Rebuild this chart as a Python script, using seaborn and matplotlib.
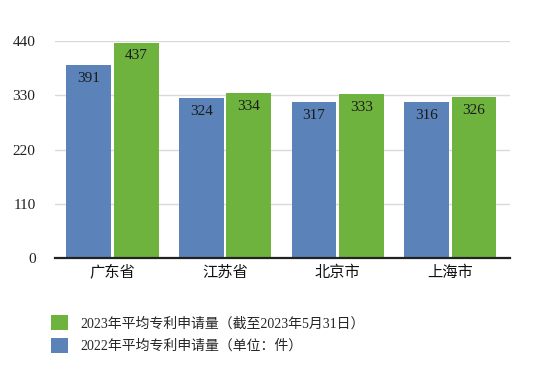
import matplotlib
matplotlib.use("Agg")
import matplotlib.pyplot as plt
import seaborn as sns
import pandas as pd
from matplotlib.patches import Patch

categories = ["广东省", "江苏省", "北京市", "上海市"]
values_2022 = [391, 324, 317, 316]
values_2023 = [437, 334, 333, 326]
series_names = ["2022年平均专利申请量（单位：件）", "2023年平均专利申请量（截至2023年5月31日）"]
yticks = [0, 110, 220, 330, 440]

sns.set_theme(style="white")
plt.rcParams['font.family'] = ['Liberation Serif', 'Noto Sans CJK SC', 'DejaVu Sans']

df = pd.DataFrame({
    "cat": categories * 2,
    "val": values_2022 + values_2023,
    "series": [series_names[0]] * 4 + [series_names[1]] * 4,
})
blue = "#5b83b9"
green = "#6fb33f"
palette = {series_names[0]: blue, series_names[1]: green}

fig = plt.figure(figsize=(5.5, 3.69), dpi=100)
ax = fig.add_axes([0.1, 0.3008, 0.827, 0.588])
sns.barplot(data=df, x="cat", y="val", hue="series", palette=palette,
            width=0.844, gap=0.06, saturation=1, ax=ax, legend=False,
            hue_order=series_names, order=categories, linewidth=0)

ax.set_ylim(0, 440)
ax.set_xlim(-0.51, 3.53)
ax.set_yticks(yticks)
ax.set_yticklabels([str(t) for t in yticks], fontsize=11, color="#222222")
ax.yaxis.grid(True, color="#d9d9d9", linewidth=1)
ax.set_axisbelow(True)
for s in ["left", "right", "top"]:
    ax.spines[s].set_visible(False)
ax.spines["bottom"].set_color("#222222")
ax.spines["bottom"].set_linewidth(1.6)
ax.tick_params(axis="both", length=0, pad=14)
ax.tick_params(axis="x", pad=4)
ax.set_xticklabels(categories, fontsize=11, color="#111111",
                   family=['Noto Sans CJK SC', 'DejaVu Sans'])
ax.set_xlabel("")
ax.set_ylabel("")

for cont in ax.containers:
    for bar in cont:
        h = bar.get_height()
        ax.text(bar.get_x() + bar.get_width() / 2, h - 27, f"{int(round(h))}",
                ha="center", va="center", fontsize=11, color="#1a1a1a", clip_on=False)

handles = [Patch(facecolor=green, edgecolor="none"), Patch(facecolor=blue, edgecolor="none")]
labels = [series_names[1], series_names[0]]
fig.legend(handles, labels, loc="upper left", bbox_to_anchor=(0.07, 0.18),
           frameon=False, handlelength=1.2, handleheight=1.3,
           handletextpad=0.9, labelspacing=0.55,
           prop={'family': ['Liberation Serif', 'Noto Sans CJK SC'], 'size': 10})

fig.savefig("out.png", dpi=100)
